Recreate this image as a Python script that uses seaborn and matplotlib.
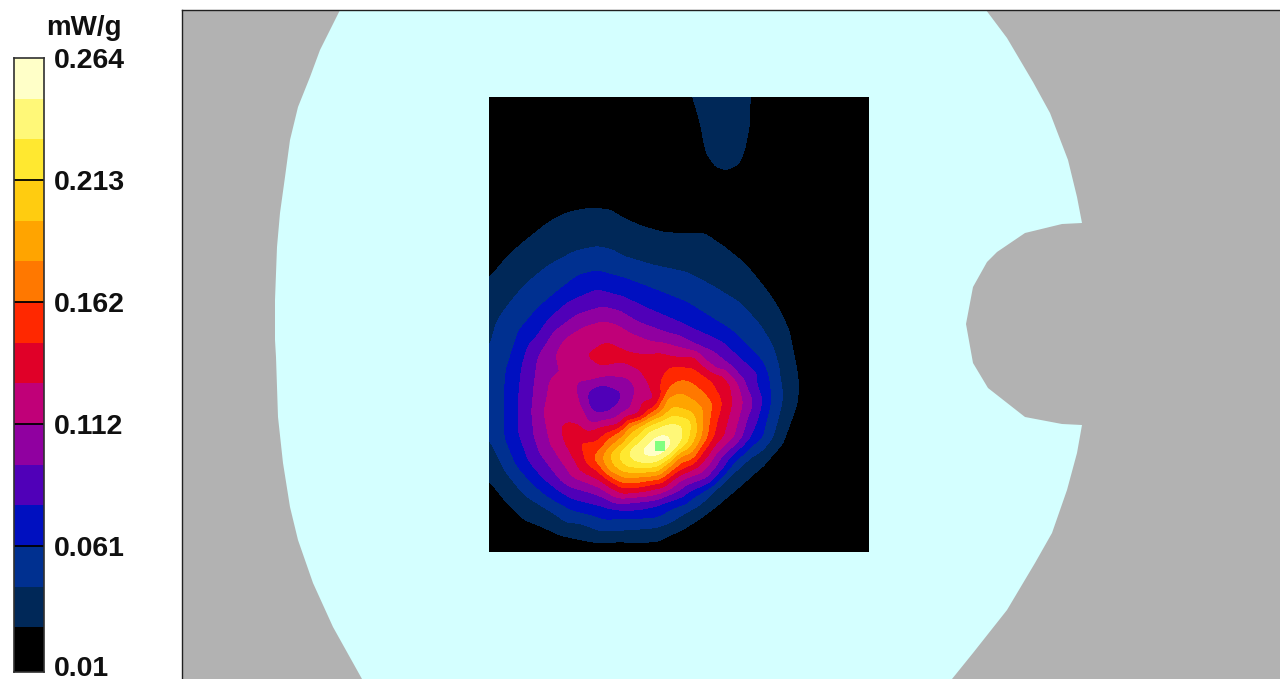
#--------SAR contour figure with discrete colour strip--
import numpy as np
import pandas as pd
import seaborn as sns
import matplotlib.pyplot as plt
import matplotlib.tri as mtri
from matplotlib.colors import ListedColormap

# colour bands, low to high
band_colors = ['#000000', '#002858', '#003090', '#0010c0', '#5000b8', '#9000a0', '#c00078', '#e00028',
               '#ff2800', '#ff7800', '#ffa400', '#ffcc10', '#ffe830', '#fff878', '#ffffc8']
levels = [0.010, 0.027, 0.044, 0.061, 0.078, 0.095, 0.112, 0.129, 0.146, 0.162, 0.179, 0.196, 0.213, 0.230, 0.247, 0.264]
tick_values = [0.264, 0.213, 0.162, 0.112, 0.061, 0.01]
tick_labels = ['0.264', '0.213', '0.162', '0.112', '0.061', '0.01']
unit_label = 'mW/g'

# phantom outline, scan position in picture pixels
phantom_x = [340, 330, 320, 310, 298, 290, 285, 280, 277, 275, 275, 276, 278, 283, 290, 298, 313, 333, 362,
             952, 973, 1007, 1035, 1052, 1067, 1077, 1082, 1062, 1025, 988, 973, 966, 973, 987, 997, 1025, 1062, 1082,
             1077, 1068, 1050, 1033, 1007, 986]
phantom_y = [10, 30, 50, 77, 107, 140, 177, 213, 247, 300, 340, 357, 417, 463, 507, 540, 583, 627, 679,
             679, 653, 610, 563, 533, 490, 453, 425, 424, 417, 388, 363, 324, 287, 262, 252, 233, 224, 223,
             197, 160, 113, 82, 38, 10]
peak_x = [660]
peak_y = [446]

# field: points lying on each level, in scan coordinates
c027_x = [489, 510, 530, 550, 570, 590, 610, 622, 640, 660, 687, 703, 722, 743, 765, 778, 787, 795, 797, 795, 780, 760, 740, 720, 700, 680, 637, 597, 560, 527, 505, 489, 692, 698, 703, 708, 717, 727, 738, 745, 749, 750]
c027_y = [280, 255, 238, 222, 212, 208, 210, 218, 226, 232, 234, 233, 246, 263, 290, 310, 330, 370, 385, 403, 443, 467, 485, 502, 517, 530, 543, 543, 535, 520, 498, 478, 97, 115, 133, 152, 166, 170, 163, 145, 125, 97]
c044_x = [489, 495, 507, 525, 547, 575, 597, 612, 623, 650, 687, 715, 740, 760, 773, 780, 782, 782, 773, 750, 732, 713, 690, 657, 623, 580, 550, 523, 505, 489]
c044_y = [350, 325, 307, 285, 267, 252, 247, 250, 257, 265, 273, 288, 303, 325, 347, 380, 390, 403, 437, 457, 473, 490, 510, 527, 530, 523, 510, 493, 470, 437]
c061_x = [505, 507, 520, 537, 557, 580, 597, 623, 655, 687, 730, 763, 770, 770, 762, 733, 693, 657, 620, 573, 527, 512, 505]
c061_y = [403, 370, 330, 310, 293, 275, 271, 278, 290, 303, 330, 363, 390, 403, 437, 463, 497, 517, 518, 510, 477, 455, 437]
c078_x = [518, 520, 537, 550, 567, 597, 623, 650, 680, 723, 757, 762, 750, 727, 710, 657, 610, 563, 530, 518]
c078_y = [403, 380, 337, 318, 303, 290, 297, 310, 323, 343, 373, 403, 437, 463, 483, 505, 508, 493, 463, 430]
c095_x = [532, 535, 538, 553, 577, 603, 620, 637, 667, 700, 727, 743, 753, 742, 720, 680, 623, 563, 540, 587, 587, 592, 603, 622, 620, 608]
c095_y = [413, 380, 357, 333, 315, 307, 311, 322, 333, 347, 363, 380, 403, 437, 458, 490, 503, 483, 453, 390, 403, 413, 383, 390, 403, 413]
c112_x = [543, 548, 555, 565, 583, 603, 618, 630, 653, 677, 700, 720, 738, 743, 734, 707, 680, 623, 573, 550, 580, 580, 593, 603, 623, 636]
c112_y = [410, 380, 353, 338, 327, 321, 325, 333, 342, 347, 357, 372, 385, 403, 437, 467, 480, 498, 477, 443, 382, 403, 425, 376, 413, 390]
c129_x = [585, 607, 630, 660, 697, 720, 730, 732, 723, 698, 663, 623, 580, 560, 567, 580, 597, 620, 640, 657, 650, 640, 623, 603]
c129_y = [355, 342, 353, 353, 357, 373, 385, 403, 437, 467, 487, 494, 470, 427, 418, 425, 428, 425, 415, 400, 387, 370, 362, 367]
c146_x = [662, 670, 693, 710, 722, 713, 687, 640, 597, 580, 607, 647, 663]
c146_y = [377, 367, 368, 380, 403, 437, 467, 487, 470, 442, 433, 413, 397]
c162_x = [670, 683, 700, 712, 707, 680, 640, 603, 593, 623, 657]
c162_y = [387, 380, 390, 403, 437, 460, 482, 470, 458, 430, 410]
c179_x = [665, 680, 697, 702, 673, 640, 608, 602, 630]
c179_y = [400, 393, 403, 430, 463, 477, 470, 458, 427]
c196_x = [673, 693, 697, 667, 637, 613, 610, 640]
c196_y = [407, 413, 430, 463, 472, 463, 455, 427]
c213_x = [677, 692, 687, 657, 627, 618, 647]
c213_y = [417, 423, 443, 467, 467, 457, 427]
c230_x = [627, 640, 667, 683, 683, 670, 647]
c230_y = [453, 463, 457, 437, 425, 423, 433]
c247_x = [642, 657, 668, 660, 643]
c247_y = [455, 457, 437, 435, 448]

# points inside bands, so the field has a shape between the level lines
inner_x = [489, 600, 650, 800, 869, 869, 869, 489, 489, 540, 600, 650, 690, 725, 780, 830, 840, 820, 775, 755, 735, 715, 695, 660, 620, 560, 489, 800,
           725, 725, 727, 489, 603, 595, 612, 660, 650, 666, 636, 675, 672, 607, 628, 645, 665, 690, 570, 660]
inner_y = [97, 97, 97, 97, 97, 300, 552, 552, 170, 170, 170, 205, 215, 200, 240, 310, 400, 480, 485, 495, 510, 525, 540, 552, 552, 552, 230, 150,
           97, 125, 155, 395, 398, 403, 398, 445, 451, 440, 455, 432, 447, 354, 357, 362, 360, 390, 390, 375]
inner_v = [0.012, 0.012, 0.012, 0.012, 0.012, 0.012, 0.012, 0.012, 0.012, 0.012, 0.012, 0.018, 0.018, 0.015, 0.015, 0.015, 0.015, 0.015, 0.017, 0.017, 0.017, 0.017, 0.017, 0.014, 0.012, 0.012, 0.018, 0.012,
           0.036, 0.036, 0.036, 0.052, 0.076, 0.085, 0.085, 0.263, 0.256, 0.256, 0.240, 0.240, 0.244, 0.137, 0.136, 0.138, 0.137, 0.170, 0.120, 0.140]

level_lines = [(0.027, c027_x, c027_y), (0.044, c044_x, c044_y), (0.061, c061_x, c061_y), (0.078, c078_x, c078_y),
               (0.095, c095_x, c095_y), (0.112, c112_x, c112_y), (0.129, c129_x, c129_y), (0.146, c146_x, c146_y),
               (0.162, c162_x, c162_y), (0.179, c179_x, c179_y), (0.196, c196_x, c196_y), (0.213, c213_x, c213_y),
               (0.230, c230_x, c230_y), (0.247, c247_x, c247_y)]

frames = [pd.DataFrame({'x': xs, 'y': ys, 'sar': val}) for val, xs, ys in level_lines]
frames.append(pd.DataFrame({'x': inner_x, 'y': inner_y, 'sar': inner_v}))
field = pd.concat(frames, ignore_index=True).drop_duplicates(['x', 'y'])


def soften(arr, sigma):
    """Small gaussian blur along both axes, takes the facets off the triangulated field."""
    r = int(3 * sigma)
    k = np.exp(-0.5 * (np.arange(-r, r + 1) / sigma) ** 2)
    k = k / k.sum()
    out = np.pad(arr, r, mode='edge')
    out = np.apply_along_axis(lambda v: np.convolve(v, k, mode='same'), 0, out)
    out = np.apply_along_axis(lambda v: np.convolve(v, k, mode='same'), 1, out)
    return out[r:-r, r:-r]


sns.set_theme(style='white')
plt.rcParams['font.family'] = ['Liberation Sans', 'DejaVu Sans']

W, H = 1280, 679
fig = plt.figure(figsize=(W / 100, H / 100), dpi=100, facecolor='white')

#--------Main panel---------
ax = fig.add_axes([182 / W, 0, 1 - 182 / W, 1 - 10 / H])
ax.set_facecolor('#b2b2b2')
ax.fill(phantom_x, phantom_y, color='#d4ffff', lw=0)

tri = mtri.Triangulation(field['x'], field['y'])
interp = mtri.LinearTriInterpolator(tri, field['sar'].values)
gx, gy = np.meshgrid(np.arange(489, 870), np.arange(97, 553))
sar_grid = soften(np.ma.filled(interp(gx, gy), 0.012), 3.5)
sar_grid = np.clip(sar_grid, levels[0] + 0.0005, levels[-1] - 0.0005)
ax.contourf(gx, gy, sar_grid, levels=levels, colors=band_colors, antialiased=False)
ax.scatter(peak_x, peak_y, marker='s', s=46, color='#80ff80', linewidths=0, zorder=5)

ax.set_xlim(182, W)
ax.set_ylim(H, 10)
ax.set_xticks([])
ax.set_yticks([])
for side in ['right', 'bottom']:
    ax.spines[side].set_visible(False)
for side in ['left', 'top']:
    ax.spines[side].set_visible(True)
    ax.spines[side].set_color('#202020')
    ax.spines[side].set_linewidth(1)

#--------Colour strip-------
cax = fig.add_axes([14 / W, 1 - 672 / H, 30.5 / W, 614 / H])
cax.set_facecolor('black')
sns.heatmap(pd.DataFrame({'band': list(range(len(band_colors)))[::-1]}), ax=cax,
            cmap=ListedColormap(band_colors), cbar=False, xticklabels=False, vmin=-0.5, vmax=14.5)
cax.set_ylim(15.1, 0)
tick_rows = [levels[::-1].index(v) for v in tick_values[:-1]]
cax.set_yticks(tick_rows)
cax.set_yticklabels(tick_labels[:-1], rotation=0, fontsize=20.5, fontweight='bold', color='#101010')
cax.yaxis.tick_right()
cax.tick_params(axis='y', length=0, pad=7)
cax.hlines(tick_rows[1:], 0, 1, color='black', lw=1.3)
# bottom label sits lower than the strip's end but has to stay in the picture
cax.annotate(tick_labels[-1], xy=(1, 15.1), xytext=(7, 2.5), textcoords='offset points', annotation_clip=False,
             va='center', ha='left', fontsize=20.5, fontweight='bold', color='#101010')
for s in cax.spines.values():
    s.set_visible(True)
    s.set_color('#303030')
    s.set_linewidth(1.2)
fig.text(83.5 / W, 1 - 28 / H, unit_label, ha='center', va='center', fontsize=20, fontweight='bold', color='#101010')

fig.savefig('out.png', dpi=100)
